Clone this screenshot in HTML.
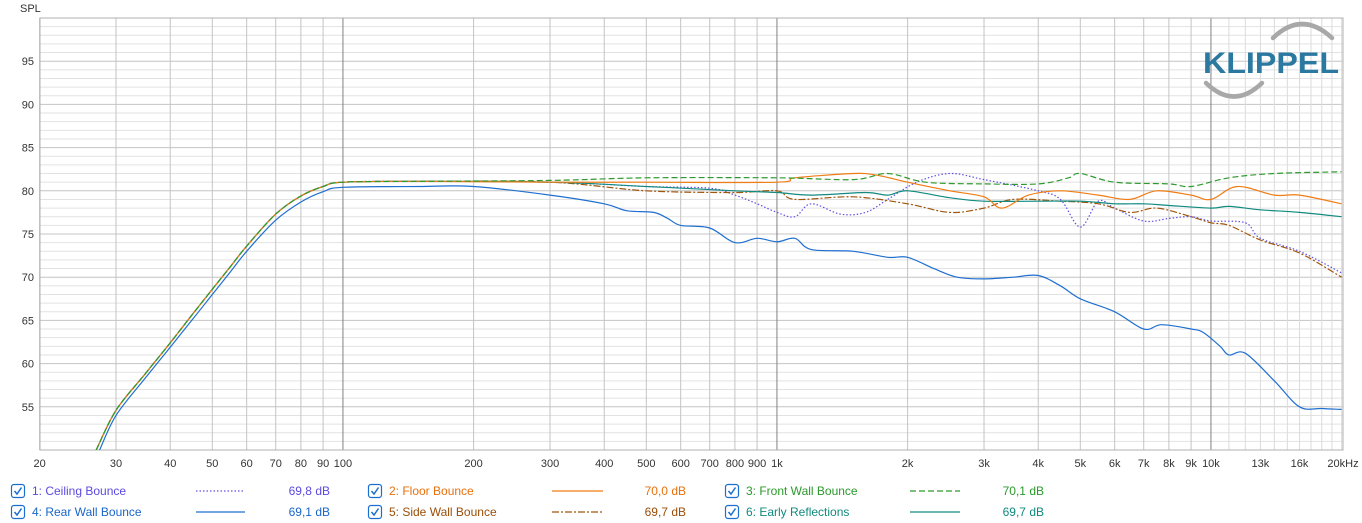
<!DOCTYPE html>
<html><head><meta charset="utf-8"><style>
body{margin:0;background:#fff;width:1362px;height:523px;overflow:hidden;font-family:"Liberation Sans",sans-serif;}
svg{position:absolute;left:0;top:0}
</style></head><body>
<svg id="s" width="1362" height="523" xmlns="http://www.w3.org/2000/svg" font-family="Liberation Sans, sans-serif"></svg>
<script>
const S=document.getElementById('s');let h='';
const X=f=>39.6+434*Math.log10(f/20), Y=d=>18+(100-d)*8.64;
for(let d=51;d<100;d++){const y=Y(d);h+=`<line x1="40" x2="1343" y1="${y}" y2="${y}" stroke="${d%5?'#e2e2e2':'#c4c4c4'}" stroke-width="1"/>`;}
let fs=[];for(let dec of [10,100,1000,10000])for(let k=1;k<10;k++){const f=dec*k;if(f>=20&&f<=20000)fs.push(f);}
for(const f of [11000,12000,13000,14000,15000,16000,17000,18000,19000])fs.push(f);
for(const f of fs){const x=X(f);let main=[100,1000,10000].includes(f);h+=`<line x1="${x}" x2="${x}" y1="18" y2="450" stroke="${main?'#808080':(f>10000?'#dcdcdc':'#c4c4c4')}"/>`;}
h+=`<rect x="40" y="18" width="1303" height="432" fill="none" stroke="#b0b0b0"/>`;
h+=`<text x="20" y="12" font-size="11" fill="#333">SPL</text>`;
for(const d of [95,90,85,80,75,70,65,60,55])h+=`<text x="34" y="${Y(d)+4}" font-size="11" fill="#333" text-anchor="end">${d}</text>`;
const xl=[[20,'20'],[30,'30'],[40,'40'],[50,'50'],[60,'60'],[70,'70'],[80,'80'],[90,'90'],[100,'100'],[200,'200'],[300,'300'],[400,'400'],[500,'500'],[600,'600'],[700,'700'],[800,'800'],[900,'900'],[1000,'1k'],[2000,'2k'],[3000,'3k'],[4000,'4k'],[5000,'5k'],[6000,'6k'],[7000,'7k'],[8000,'8k'],[9000,'9k'],[10000,'10k'],[13000,'13k'],[16000,'16k']];
for(const [f,t] of xl)h+=`<text x="${X(f)}" y="467" font-size="11" fill="#333" text-anchor="middle">${t}</text>`;
h+=`<text x="1343" y="467" font-size="11" fill="#333" text-anchor="middle">20kHz</text>`;
// logo
h+=`<path d="M1273 38 Q1302 10 1332 38" fill="none" stroke="#a8a8a8" stroke-width="4.5" stroke-linecap="round"/>`;
h+=`<path d="M1206 83 Q1234 110 1262 83" fill="none" stroke="#a8a8a8" stroke-width="4.5" stroke-linecap="round"/>`;
h+=`<text x="1271" y="73" font-size="30" font-weight="bold" fill="#2b78a0" text-anchor="middle" textLength="136" lengthAdjust="spacingAndGlyphs">KLIPPEL</text>`;
const low=[[27,50],[30,54.6],[35,58.8],[40,62.4],[45,65.7],[50,68.6],[55,71.2],[60,73.6],[70,77.3],[80,79.4],[90,80.5],[100,81],[150,81.1]];
const lowB=[[27.5,50],[30,54],[35,58.3],[40,61.9],[45,65.1],[50,68],[55,70.6],[60,73],[70,76.6],[80,78.7],[90,79.9],[100,80.4],[150,80.5]];
const D={
rear:lowB.concat([[200,80.5],[300,79.5],[400,78.5],[450,77.7],[520,77.5],[560,76.8],[600,76],[700,75.7],[800,74],[900,74.5],[1000,74.1],[1100,74.5],[1200,73.2],[1500,73],[1800,72.3],[2000,72.3],[2300,71],[2600,70],[3000,69.8],[3500,70],[4000,70.2],[4500,69],[5000,67.5],[6000,66],[7000,64],[7700,64.5],[9000,64],[9600,63.6],[10500,62],[11000,61],[12000,61.2],[14000,58],[16000,55],[18000,54.8],[20000,54.7]]),
floor:low.concat([[300,81],[500,81],[1000,81],[1100,81.5],[1500,82],[1700,81.8],[2000,81],[2500,80],[3000,79.3],[3300,78],[3800,79.5],[4500,80],[5500,79.5],[6500,79],[7500,80],[9000,79.5],[10000,79],[11500,80.5],[14000,79.5],[16000,79.5],[20000,78.5]]),
front:low.concat([[300,81.2],[500,81.5],[1000,81.5],[1500,81.3],[1800,82],[2200,81],[3000,80.8],[4000,80.8],[4700,81.5],[5000,82],[6000,81],[8000,80.8],[9000,80.5],[11000,81.5],[14000,82],[20000,82.2]]),
ceil:low.concat([[300,81],[500,80.5],[700,80.3],[800,79.5],[900,78.5],[1000,77.5],[1100,77],[1200,78.5],[1400,77.3],[1600,77.5],[1800,79],[2100,81],[2500,82],[3000,81.3],[4000,80],[4500,79],[5000,75.8],[5500,78.8],[6000,78],[7000,76.5],[8000,76.8],[9000,77],[10000,76.5],[12000,76.3],[13000,74.5],[16000,73],[20000,70.5]]),
side:low.concat([[300,81],[500,80],[800,79.8],[1000,80],[1100,79],[1500,79.3],[2000,78.5],[2500,77.5],[3000,78],[3500,79],[4500,78.8],[5500,78.5],[6500,77.5],[7500,78],[9000,77],[10000,76.3],[11000,76],[13000,74.3],[16000,72.8],[20000,70]]),
early:low.concat([[300,81],[500,80.5],[800,80],[1000,79.8],[1200,79.5],[1600,79.8],[1800,79.5],[2000,80],[2500,79.2],[3000,78.8],[4000,78.8],[5000,78.8],[6000,78.5],[7000,78.5],[8000,78.3],[10000,78],[11000,78.2],[13000,77.8],[16000,77.5],[20000,77]])};
function path(d){const p=d.map(([f,v])=>[X(f),Y(v)]);let s='M'+p[0][0].toFixed(1)+' '+p[0][1].toFixed(1);
for(let i=0;i<p.length-1;i++){const a=p[Math.max(0,i-1)],b=p[i],c=p[i+1],e=p[Math.min(p.length-1,i+2)];
const c1=[b[0]+(c[0]-a[0])/6,b[1]+(c[1]-a[1])/6],c2=[c[0]-(e[0]-b[0])/6,c[1]-(e[1]-b[1])/6];
s+=` C${c1[0].toFixed(1)} ${c1[1].toFixed(1)} ${c2[0].toFixed(1)} ${c2[1].toFixed(1)} ${c[0].toFixed(1)} ${c[1].toFixed(1)}`;}return s;}
const st={rear:['#1f6fd0',''],floor:['#f07c14',''],front:['#2e9a2e','6 3'],ceil:['#6050e0','1.5 2'],side:['#a0560c','7 2 2 2'],early:['#118a80','']};
h+='<clipPath id="c"><rect x="40" y="18" width="1303" height="432"/></clipPath><g clip-path="url(#c)">';
for(const k of ['rear','ceil','side','early','floor','front'])h+=`<path d="${path(D[k])}" fill="none" stroke="${st[k][0]}" stroke-width="1.2" ${st[k][1]?`stroke-dasharray="${st[k][1]}"`:''}/>`;
h+='</g>';
const L=[[18,491,'1: Ceiling Bounce','69,8 dB','ceil',196,245,330],[375,491,'2: Floor Bounce','70,0 dB','floor',552,603,686],[732,491,'3: Front Wall Bounce','70,1 dB','front',910,960,1044],
[18,512,'4: Rear Wall Bounce','69,1 dB','rear',196,245,330],[375,512,'5: Side Wall Bounce','69,7 dB','side',552,603,686],[732,512,'6: Early Reflections','69,7 dB','early',910,960,1044]];
const tc={ceil:'#5a4ae0',floor:'#e8700c',front:'#2a9a2a',rear:'#1a66c8',side:'#9a4e08',early:'#108a7e'};
for(const [x,y,t,v,k,a,b,r] of L){
h+=`<rect x="${x-6.5}" y="${y-6.5}" width="13" height="13" rx="2.5" fill="#fff" stroke="#1a6fd0" stroke-width="1.2"/><path d="M${x-3.5} ${y} l2.5 3 l4.5 -6.5" fill="none" stroke="#1a6fd0" stroke-width="1.5"/>`;
h+=`<text x="${x+14}" y="${y+4}" font-size="12" fill="${tc[k]}">${t}</text>`;
h+=`<line x1="${a}" x2="${b}" y1="${y}" y2="${y}" stroke="${st[k][0]}" stroke-width="1.2" ${st[k][1]?`stroke-dasharray="${st[k][1]}"`:''}/>`;
h+=`<text x="${r}" y="${y+4}" font-size="12" fill="${tc[k]}" text-anchor="end">${v}</text>`;}
S.innerHTML=h;
</script>
</body></html>
